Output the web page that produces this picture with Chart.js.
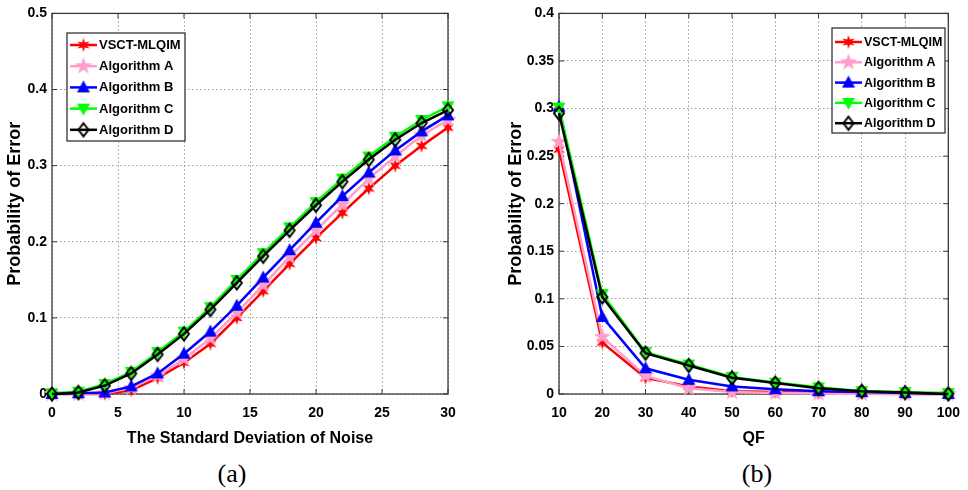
<!DOCTYPE html>
<html><head><meta charset="utf-8">
<script src="https://cdn.jsdelivr.net/npm/chart.js@4.4.1/dist/chart.umd.min.js"></script>
<style>
html,body{margin:0;padding:0;background:#fff;width:968px;height:490px;overflow:hidden;}
#wa{position:absolute;left:0;top:0;width:480px;height:454px;}
#wb{position:absolute;left:505px;top:0;width:466px;height:454px;}
.cap{position:absolute;top:459px;font-family:"Liberation Serif","Times New Roman",serif;font-size:26px;color:#000;width:60px;text-align:center;line-height:30px;}
</style></head><body>
<div id="wa"><canvas id="ca"></canvas></div>
<div id="wb"><canvas id="cb"></canvas></div>
<div class="cap" style="left:202px">(a)</div>
<div class="cap" style="left:727px">(b)</div>
<script>
// ---------- data ----------
const seriesNames = ['VSCT-MLQIM','Algorithm A','Algorithm B','Algorithm C','Algorithm D'];

// (a) probability of error vs. standard deviation of noise
const noiseStd = [0,2,4,6,8,10,12,14,16,18,20,22,24,26,28,30];
const noiseVSCT = [0,0,0,0.005,0.021,0.041,0.066,0.100,0.135,0.171,0.205,0.238,0.270,0.300,0.326,0.350];
const noiseA    = [0,0,0.001,0.008,0.024,0.046,0.073,0.107,0.143,0.180,0.215,0.249,0.283,0.312,0.340,0.360];
const noiseB    = [0,0.001,0.002,0.010,0.027,0.053,0.082,0.116,0.153,0.189,0.225,0.260,0.291,0.320,0.345,0.366];
const noiseC    = [0.001,0.003,0.013,0.029,0.055,0.082,0.114,0.150,0.185,0.219,0.252,0.283,0.312,0.338,0.360,0.378];
const noiseD    = [0,0.002,0.011,0.027,0.052,0.079,0.111,0.146,0.181,0.215,0.248,0.279,0.308,0.334,0.356,0.373];

// (b) probability of error vs. JPEG quality factor
const qf = [10,20,30,40,50,60,70,80,90,100];
const qfVSCT = [0.257,0.054,0.017,0.008,0.003,0.002,0.001,0.0005,0,0];
const qfA    = [0.265,0.060,0.019,0.006,0.002,0.001,0.0005,0,0,0];
const qfB    = [0.302,0.081,0.027,0.015,0.008,0.005,0.003,0.002,0.001,0];
const qfC    = [0.301,0.105,0.044,0.031,0.018,0.012,0.007,0.003,0.002,0.001];
const qfD    = [0.295,0.102,0.043,0.030,0.017,0.0115,0.006,0.003,0.0015,0];

// ticks
const aXTicks = [0,5,10,15,20,25,30];
const aYTicks = [0,0.1,0.2,0.3,0.4,0.5];
const aYLabels = ['0','0.1','0.2','0.3','0.4','0.5'];
const bXTicks = [10,20,30,40,50,60,70,80,90,100];
const bYTicks = [0,0.05,0.1,0.15,0.2,0.25,0.3,0.35,0.4];
const bYLabels = ['0','0.05','0.1','0.15','0.2','0.25','0.3','0.35','0.4'];

// ---------- markers ----------
function mk(size, fn){const c=document.createElement('canvas');c.width=c.height=size;const g=c.getContext('2d');g.translate(size/2,size/2);fn(g);return c;}
function star(g,n,ro,ri,col){g.beginPath();for(let i=0;i<2*n;i++){const r=i%2?ri:ro;const a=-Math.PI/2+i*Math.PI/n;g.lineTo(r*Math.cos(a),r*Math.sin(a));}g.closePath();g.fillStyle=col;g.fill();}
const colors = ['#ff0000','#ff9ecb','#0000ff','#00ff00','#000000'];
const markers = [
  mk(18,g=>star(g,6,7,2.8,colors[0])),
  mk(20,g=>star(g,5,9,3.6,colors[1])),
  mk(18,g=>{g.beginPath();g.moveTo(0,-7);g.lineTo(6.5,5);g.lineTo(-6.5,5);g.closePath();g.fillStyle=colors[2];g.fill();}),
  mk(18,g=>{g.beginPath();g.moveTo(0,7);g.lineTo(6.5,-5);g.lineTo(-6.5,-5);g.closePath();g.fillStyle=colors[3];g.fill();}),
  mk(18,g=>{g.beginPath();g.moveTo(0,-6.5);g.lineTo(5,0);g.lineTo(0,6.5);g.lineTo(-5,0);g.closePath();g.lineWidth=2;g.strokeStyle=colors[4];g.stroke();})
];

const FONT = '"Liberation Sans", Arial, Helvetica, sans-serif';

function makeDatasets(xs, ys){
  return ys.map((arr,i)=>({
    label: seriesNames[i],
    data: arr.map((v,j)=>({x:xs[j],y:v})),
    borderColor: colors[i],
    backgroundColor: colors[i],
    borderWidth: 2.5,
    pointStyle: markers[i],
    pointRadius: 6,
    tension: 0,
    clip: false,
    order: 5-i
  }));
}

const framePlugin = {
  id:'frame',
  beforeDatasetsDraw(chart){
    const {ctx, chartArea:a, scales} = chart;
    ctx.save();
    ctx.strokeStyle='#3a3a3a'; ctx.lineWidth=1.3;
    ctx.strokeRect(a.left,a.top,a.right-a.left,a.bottom-a.top);
    ctx.lineWidth=1;
    scales.x.ticks.forEach(t=>{const p=scales.x.getPixelForValue(t.value);
      ctx.beginPath();ctx.moveTo(p,a.bottom);ctx.lineTo(p,a.bottom-5);ctx.moveTo(p,a.top);ctx.lineTo(p,a.top+5);ctx.stroke();});
    scales.y.ticks.forEach(t=>{const p=scales.y.getPixelForValue(t.value);
      ctx.beginPath();ctx.moveTo(a.left,p);ctx.lineTo(a.left+5,p);ctx.moveTo(a.right,p);ctx.lineTo(a.right-5,p);ctx.stroke();});
    ctx.restore();
  },
  afterDraw(chart, args, o){
    const L = o.legend; if(!L) return;
    const ctx = chart.ctx;
    ctx.save();
    ctx.fillStyle='#fff';
    ctx.fillRect(L.x0,L.y0,L.x1-L.x0,L.y1-L.y0);
    ctx.strokeStyle='#333'; ctx.lineWidth=1.3;
    ctx.strokeRect(L.x0,L.y0,L.x1-L.x0,L.y1-L.y0);
    chart.data.datasets.forEach((ds,i)=>{
      const y = L.row0 + i*L.step;
      ctx.strokeStyle=ds.borderColor; ctx.lineWidth=2.5;
      ctx.beginPath(); ctx.moveTo(L.lx0,y); ctx.lineTo(L.lx1,y); ctx.stroke();
      const m = ds.pointStyle; const cx=(L.lx0+L.lx1)/2;
      ctx.drawImage(m, cx-m.width/2, y-m.height/2);
      ctx.fillStyle='#000'; ctx.font='bold '+L.fs+'px '+FONT;
      ctx.textBaseline='middle'; ctx.textAlign='left';
      ctx.fillText(ds.label, L.tx, y+0.5);
    });
    ctx.restore();
  }
};

function makeChart(id, xs, ys, xr, yr, xTicks, yTicks, yLabels, xTitle, padRight, yAxisW, yTitlePad, legend){
  return new Chart(document.getElementById(id), {
    type:'line',
    data:{datasets: makeDatasets(xs, ys)},
    plugins:[framePlugin],
    options:{
      responsive:true, maintainAspectRatio:false, animation:false, devicePixelRatio:1,
      layout:{padding:{left:0,top:13,right:padRight,bottom:0}},
      plugins:{legend:{display:false}, tooltip:{enabled:false}, frame:{legend}},
      scales:{
        x:{type:'linear', min:xr[0], max:xr[1],
          afterBuildTicks:s=>{s.ticks=xTicks.map(v=>({value:v}));},
          afterFit:s=>{s.height=60;},
          ticks:{color:'#000', font:{family:FONT,size:14,weight:'bold'}, padding:11, maxRotation:0, autoSkip:false,
            callback:v=>String(v)},
          grid:{color:'#9a9a9a', lineWidth:1, drawTicks:false},
          border:{display:false, dash:[1.5,2.5]},
          title:{display:true, text:xTitle, color:'#000', font:{family:FONT,size:16,weight:'bold'}, padding:{top:0,bottom:6}}
        },
        y:{type:'linear', min:yr[0], max:yr[1],
          afterBuildTicks:s=>{s.ticks=yTicks.map(v=>({value:v}));},
          afterFit:s=>{s.width=yAxisW;},
          ticks:{color:'#000', font:{family:FONT,size:14,weight:'bold'}, padding:5, autoSkip:false,
            callback:(v)=>{const k=yTicks.findIndex(t=>Math.abs(t-v)<1e-9);return k>=0?yLabels[k]:'';}},
          grid:{color:'#9a9a9a', lineWidth:1, drawTicks:false},
          border:{display:false, dash:[1.5,2.5]},
          title:{display:true, text:'Probability of Error', color:'#000', font:{family:FONT,size:18,weight:'bold'}, padding:{top:yTitlePad,bottom:0}}
        }
      }
    }
  });
}

makeChart('ca', noiseStd, [noiseVSCT,noiseA,noiseB,noiseC,noiseD], [0,30], [0,0.5], aXTicks, aYTicks, aYLabels,
  'The Standard Deviation of Noise', 32, 52, 4,
  {x0:67,y0:33,x1:185,y1:141,row0:45,step:21.2,lx0:70,lx1:97,tx:99,fs:13});
makeChart('cb', qf, [qfVSCT,qfA,qfB,qfC,qfD], [10,100], [0,0.4], bXTicks, bYTicks, bYLabels,
  'QF', 14, 54, 0,
  {x0:327,y0:28,x1:440,y1:133,row0:42,step:20.3,lx0:330,lx1:357,tx:359,fs:12.5});
</script>
</body></html>
